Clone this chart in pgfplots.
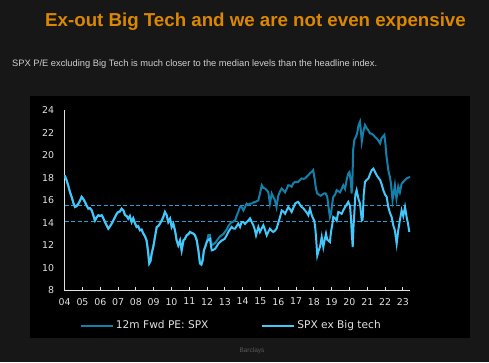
\documentclass[border=0pt]{standalone}
\usepackage{pgfplots}
\pgfplotsset{compat=1.18}
\usepackage{pgfplotstable}
\usepackage{fontspec}
\setmainfont{Liberation Sans}
\newfontfamily\chartfont{DejaVu Sans}
\definecolor{bg}{RGB}{23,23,23}
\definecolor{ttl}{RGB}{220,135,0}
\definecolor{sub}{RGB}{208,208,208}
\definecolor{spx}{RGB}{18,128,170}
\definecolor{exbt}{RGB}{66,200,250}
\definecolor{med}{RGB}{36,158,210}
\definecolor{axc}{RGB}{225,225,225}

\pgfplotstableread{
x y
2004.00 18.2
2004.10 17.8
2004.20 17.3
2004.30 16.7
2004.39 16.3
2004.50 15.7
2004.58 15.4
2004.68 15.5
2004.77 15.7
2004.87 16.0
2004.95 16.3
2005.05 16.1
2005.14 15.85
2005.24 15.5
2005.33 15.26
2005.42 15.3
2005.52 15.1
2005.60 14.7
2005.70 14.2
2005.80 14.5
2005.89 14.67
2005.98 14.6
2006.08 14.67
2006.17 14.4
2006.26 14.07
2006.35 13.8
2006.45 13.48
2006.55 13.7
2006.64 13.93
2006.73 14.2
2006.83 14.52
2006.92 14.8
2007.01 14.96
2007.10 15.0
2007.20 15.26
2007.30 15.1
2007.39 14.67
2007.48 14.6
2007.57 14.37
2007.66 14.6
2007.76 14.07
2007.85 14.4
2007.94 14.0
2008.04 13.63
2008.13 13.7
2008.23 13.33
2008.32 13.4
2008.42 13.04
2008.51 12.8
2008.60 12.44
2008.68 11.5
2008.75 10.4
2008.82 10.6
2008.89 11.3
2008.98 11.9
2009.07 12.74
2009.17 13.63
2009.26 13.7
2009.35 13.93
2009.45 14.2
2009.54 14.52
2009.63 14.96
2009.73 14.67
2009.82 14.07
2009.92 14.37
2010.01 13.63
2010.10 13.93
2010.20 13.3
2010.29 12.44
2010.38 12.0
2010.48 12.44
2010.57 11.56
2010.67 12.44
2010.76 12.6
2010.85 12.89
2010.95 13.0
2011.04 13.19
2011.14 13.1
2011.23 13.04
2011.32 12.9
2011.42 12.44
2011.51 11.56
2011.60 10.4
2011.68 10.3
2011.75 10.67
2011.82 11.56
2011.90 11.9
2011.98 12.3
2012.07 12.9
2012.16 12.9
2012.26 12.0
2012.35 12.1
2012.45 12.2
2012.54 12.4
2012.63 12.6
2012.73 12.8
2012.82 12.9
2012.91 13.0
2013.00 13.2
2013.10 13.4
2013.19 13.7
2013.28 13.9
2013.38 14.07
2013.47 14.1
2013.57 14.22
2013.66 14.6
2013.75 14.96
2013.85 15.41
2013.94 15.4
2014.04 15.1
2014.13 15.4
2014.22 15.7
2014.31 15.6
2014.41 15.7
2014.50 15.7
2014.60 15.8
2014.69 15.85
2014.78 15.9
2014.88 16.0
2014.97 16.6
2015.07 17.33
2015.16 17.1
2015.25 17.04
2015.35 16.9
2015.44 16.7
2015.53 15.7
2015.63 16.6
2015.72 16.3
2015.81 16.0
2015.90 15.4
2016.00 16.4
2016.10 16.8
2016.19 17.04
2016.28 16.9
2016.38 16.7
2016.47 17.0
2016.56 17.33
2016.66 17.3
2016.75 17.2
2016.84 17.5
2016.94 17.63
2017.03 17.6
2017.12 17.63
2017.22 17.8
2017.31 17.93
2017.40 17.9
2017.50 17.93
2017.60 18.1
2017.69 18.22
2017.78 18.4
2017.88 18.52
2017.96 18.67
2018.04 17.9
2018.12 17.0
2018.19 16.6
2018.28 16.5
2018.38 16.4
2018.47 16.5
2018.57 16.6
2018.66 16.6
2018.75 16.3
2018.83 15.3
2018.90 14.5
2018.96 14.8
2019.04 15.8
2019.09 16.3
2019.19 16.5
2019.28 16.9
2019.37 16.8
2019.47 16.7
2019.56 17.0
2019.65 17.33
2019.75 17.0
2019.84 17.8
2019.93 18.37
2020.00 18.5
2020.08 17.6
2020.12 16.6
2020.16 17.6
2020.21 20.5
2020.27 21.33
2020.35 21.6
2020.40 21.78
2020.45 22.1
2020.50 22.6
2020.59 22.96
2020.65 22.0
2020.69 21.2
2020.78 22.1
2020.87 22.67
2020.96 22.4
2021.06 22.2
2021.15 21.93
2021.25 21.9
2021.34 21.78
2021.44 21.6
2021.53 21.48
2021.62 21.3
2021.72 21.04
2021.80 21.5
2021.96 21.8
2022.02 21.0
2022.07 20.0
2022.13 19.3
2022.18 18.67
2022.27 18.07
2022.33 17.5
2022.37 16.8
2022.42 16.0
2022.50 16.8
2022.55 17.33
2022.60 16.6
2022.64 16.15
2022.70 16.7
2022.74 17.2
2022.83 16.7
2022.93 17.48
2023.02 17.63
2023.12 17.8
2023.21 17.93
2023.30 18.0
2023.40 18.07
}\spxtable

\pgfplotstableread{
x y
2004.00 18.2
2004.10 17.8
2004.20 17.3
2004.30 16.7
2004.39 16.3
2004.50 15.7
2004.58 15.4
2004.68 15.5
2004.77 15.7
2004.87 16.0
2004.95 16.3
2005.05 16.1
2005.14 15.85
2005.24 15.5
2005.33 15.26
2005.42 15.3
2005.52 15.1
2005.60 14.7
2005.70 14.2
2005.80 14.5
2005.89 14.67
2005.98 14.6
2006.08 14.67
2006.17 14.4
2006.26 14.07
2006.35 13.8
2006.45 13.48
2006.55 13.7
2006.64 13.93
2006.73 14.2
2006.83 14.52
2006.92 14.8
2007.01 14.96
2007.10 15.0
2007.20 15.26
2007.30 15.1
2007.39 14.67
2007.48 14.6
2007.57 14.37
2007.66 14.6
2007.76 14.07
2007.85 14.4
2007.94 14.0
2008.04 13.63
2008.13 13.7
2008.23 13.33
2008.32 13.4
2008.42 13.04
2008.51 12.8
2008.60 12.44
2008.68 11.5
2008.75 10.4
2008.82 10.6
2008.89 11.3
2008.98 11.9
2009.07 12.74
2009.17 13.63
2009.26 13.7
2009.35 13.93
2009.45 14.2
2009.54 14.52
2009.63 14.96
2009.73 14.67
2009.82 14.07
2009.92 14.37
2010.01 13.63
2010.10 13.93
2010.20 13.3
2010.29 12.44
2010.38 12.0
2010.48 12.44
2010.57 11.56
2010.67 12.44
2010.76 12.6
2010.85 12.89
2010.95 13.0
2011.04 13.19
2011.14 13.1
2011.23 13.04
2011.32 12.9
2011.42 12.44
2011.51 11.56
2011.60 10.4
2011.68 10.3
2011.75 10.67
2011.82 11.56
2011.90 11.9
2011.98 12.3
2012.07 12.5
2012.16 12.59
2012.26 11.56
2012.35 11.6
2012.45 11.7
2012.54 11.9
2012.63 12.15
2012.73 12.3
2012.82 12.44
2012.91 12.5
2013.00 12.6
2013.10 12.9
2013.19 13.19
2013.28 13.4
2013.38 13.63
2013.47 13.5
2013.57 13.48
2013.66 13.7
2013.75 13.93
2013.85 13.63
2013.94 14.07
2014.04 14.07
2014.13 13.9
2014.22 14.07
2014.31 14.2
2014.41 14.4
2014.50 14.1
2014.60 13.78
2014.68 13.4
2014.75 12.89
2014.82 13.3
2014.88 13.63
2014.97 13.19
2015.07 13.5
2015.16 13.78
2015.25 13.4
2015.35 12.89
2015.44 13.2
2015.53 13.48
2015.63 13.3
2015.72 13.19
2015.81 13.3
2015.90 13.48
2016.00 14.0
2016.10 14.52
2016.19 15.1
2016.28 15.0
2016.38 14.8
2016.47 15.1
2016.56 15.4
2016.66 15.2
2016.75 14.96
2016.84 15.3
2016.94 15.7
2017.03 15.8
2017.12 15.85
2017.22 15.6
2017.31 15.4
2017.40 15.3
2017.50 15.1
2017.60 14.9
2017.69 14.67
2017.78 15.26
2017.88 14.67
2017.95 14.4
2018.02 14.2
2018.08 13.5
2018.12 12.74
2018.19 11.1
2018.26 11.5
2018.34 11.85
2018.44 12.74
2018.53 11.85
2018.62 12.6
2018.68 13.04
2018.75 12.5
2018.81 12.44
2018.90 12.3
2018.96 13.2
2019.04 13.9
2019.09 14.52
2019.19 14.4
2019.28 14.2
2019.37 14.96
2019.47 14.9
2019.56 14.8
2019.65 15.1
2019.75 15.4
2019.84 15.6
2019.93 15.85
2020.03 15.5
2020.08 14.5
2020.12 13.33
2020.18 11.85
2020.22 13.5
2020.27 14.8
2020.33 16.5
2020.40 16.9
2020.50 16.15
2020.59 15.7
2020.69 14.22
2020.74 14.3
2020.80 16.5
2020.87 17.63
2020.96 17.8
2021.06 17.93
2021.15 18.3
2021.25 18.67
2021.34 18.8
2021.44 18.5
2021.53 18.2
2021.62 18.0
2021.72 17.8
2021.81 17.4
2021.90 16.9
2022.00 16.5
2022.09 16.3
2022.18 15.4
2022.27 14.9
2022.37 14.5
2022.46 13.78
2022.55 13.33
2022.65 12.15
2022.74 13.33
2022.83 14.22
2022.93 15.1
2023.02 14.6
2023.12 15.4
2023.21 14.5
2023.28 14.0
2023.36 13.19
}\exbttable

\begin{document}
\begin{tikzpicture}
\fill[bg] (0pt,0pt) rectangle (489pt,362pt);
\fill[black] (30pt,24.3pt) rectangle (470pt,266pt);
\node[anchor=base, text=ttl, font=\bfseries\fontsize{18.7}{22}\selectfont, inner sep=0pt] at (255.5pt,335.3pt) {Ex-out Big Tech and we are not even expensive};
\node[anchor=base west, text=sub, font=\fontsize{9.3}{11}\selectfont, inner sep=0pt] at (12pt,295pt) {SPX P/E excluding Big Tech is much closer to the median levels than the headline index.};
\node[text=gray!70!black, font=\fontsize{6.5}{8}\selectfont, inner sep=0pt] at (252pt,11pt) {Barclays};
\begin{axis}[
  at={(64.7pt,71.5pt)}, anchor=south west,
  scale only axis, width=345.3pt, height=180.5pt,
  xmin=2004, xmax=2023.4, ymin=8, ymax=24,
  axis x line*=bottom, axis y line*=left,
  axis line style={axc, line width=1.3pt, -},
  xtick={2004,...,2023},
  xticklabels={04,05,06,07,08,09,10,11,12,13,14,15,16,17,18,19,20,21,22,23},
  ytick={8,10,...,24},
  /pgf/number format/assume math mode=true,
  tick label style={text=axc, font=\chartfont\fontsize{9.4}{11}\selectfont},
  x tick style={axc, line width=1pt},
  major tick length=3.5pt,
  xtick align=inside,
  y tick style={draw=none},
  xticklabel style={yshift=-4pt},
  yticklabel style={xshift=-7pt},
  clip=false,
  legend columns=2,
  legend style={at={(0.035,-0.195)}, anchor=west, draw=none, fill=none,
    text=axc, font=\chartfont\fontsize{10.6}{12}\selectfont,
    /tikz/every even column/.append style={column sep=51pt}},
  legend image code/.code={\draw[#1] (0pt,0pt) -- (32pt,0pt);},
]
\addplot[med, dash pattern=on 4pt off 2.5pt, line width=1.4pt, forget plot] coordinates {(2004,15.55) (2023.1,15.55)};
\addplot[med, dash pattern=on 4pt off 2.5pt, line width=1.4pt, forget plot] coordinates {(2004,14.1) (2023.1,14.1)};
\addplot[spx, line width=2pt] table[x=x,y=y] {\spxtable};
\addlegendentry{12m Fwd PE: SPX}
\addplot[exbt, line width=2pt] table[x=x,y=y] {\exbttable};
\addlegendentry{SPX ex Big tech}
\end{axis}
\end{tikzpicture}
\end{document}
